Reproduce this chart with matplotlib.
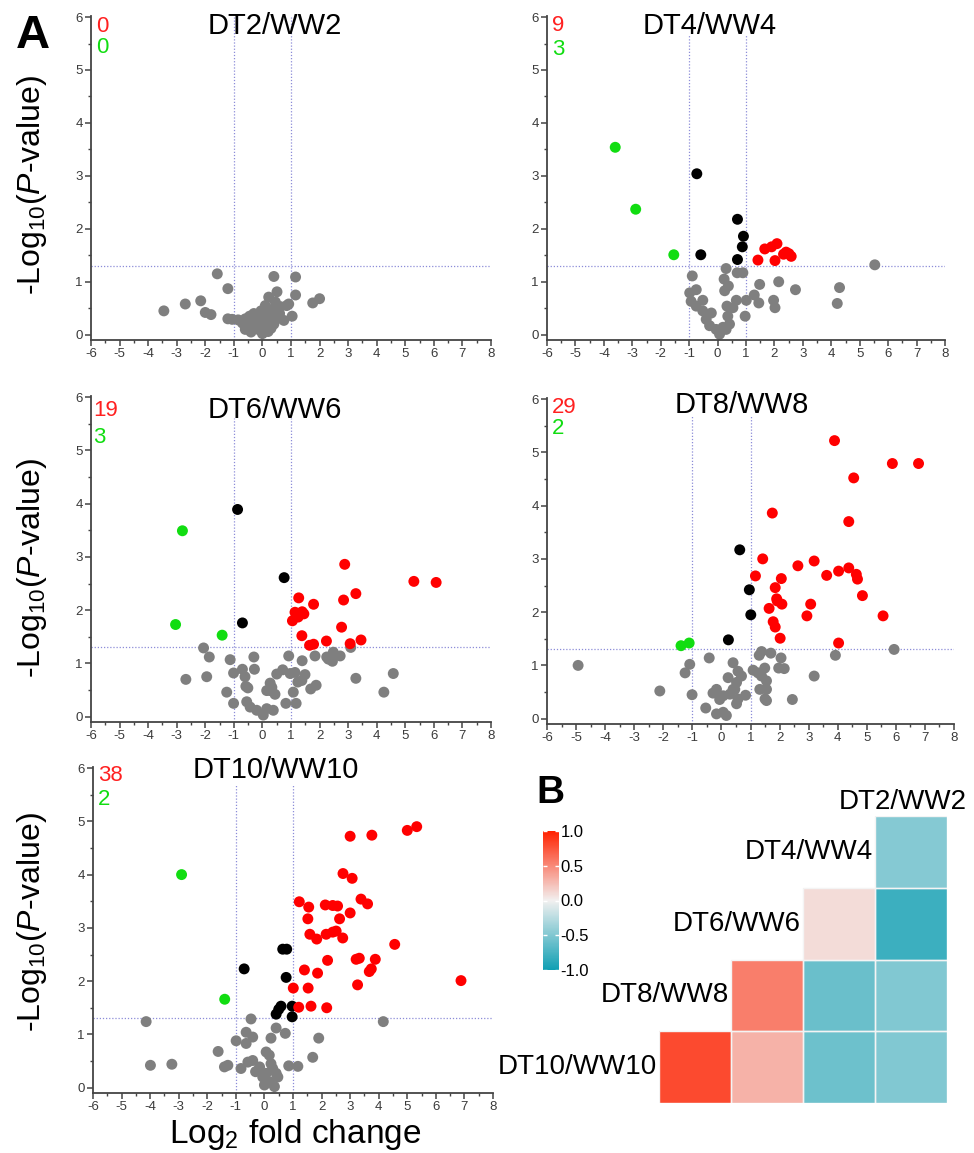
import numpy as np
import matplotlib
matplotlib.use("Agg")
import matplotlib.pyplot as plt
from matplotlib.colors import LinearSegmentedColormap
from matplotlib.ticker import MultipleLocator
from matplotlib.patches import Rectangle

plt.rcParams['font.family'] = ['Liberation Sans', 'DejaVu Sans']
plt.rcParams['mathtext.fontset'] = 'custom'
plt.rcParams['mathtext.rm'] = 'Liberation Sans'
plt.rcParams['mathtext.it'] = 'Liberation Sans:italic'
plt.rcParams['axes.unicode_minus'] = False

# ---------------- data ----------------
titles = ["DT2/WW2", "DT4/WW4", "DT6/WW6", "DT8/WW8", "DT10/WW10"]
up_counts = [0, 9, 19, 29, 38]
down_counts = [0, 3, 3, 2, 2]

# DT2/WW2
p1_gray_x = [-3.45, -2.70, -2.16, -2.0, -1.8, -1.58, -1.21, -1.21, -1.06, 0.40, 1.16, 0.51, 1.16, 0.22,
             1.76, 2.0, 1.04, 0.75, 0.92, 0.63,
             -0.85, -0.7, -0.6, -0.5, -0.45, -0.35, -0.3, -0.2, -0.15, -0.1, 0.0, 0.05, 0.1, 0.15, 0.2,
             0.25, 0.3, 0.35, 0.4, 0.5, 0.55, -0.4, -0.25, 0.0, 0.1, 0.3, 0.45, -0.05, 0.2, 0.12, 0.6, 0.85, -0.6]
p1_gray_y = [0.45, 0.58, 0.64, 0.42, 0.38, 1.15, 0.87, 0.30, 0.29, 1.10, 1.09, 0.81, 0.75, 0.71,
             0.60, 0.68, 0.35, 0.27, 0.58, 0.53,
             0.28, 0.22, 0.30, 0.15, 0.35, 0.25, 0.40, 0.18, 0.10, 0.30, 0.02, 0.15, 0.42, 0.08, 0.25,
             0.38, 0.12, 0.48, 0.20, 0.30, 0.45, 0.05, 0.33, 0.20, 0.55, 0.28, 0.62, 0.45, 0.06, 0.50, 0.40, 0.55, 0.10]
p1_black_x, p1_black_y = [], []
p1_red_x, p1_red_y = [], []
p1_green_x, p1_green_y = [], []

# DT4/WW4
p2_gray_x = [5.53, 4.29, 4.21, 2.74, 2.15, 1.48, 1.45, 1.97, 2.02, 1.29, 1.01, 0.97, 0.89, 0.69, 0.30, 0.23,
             0.38, 0.25, 0.66, 0.33, 0.54, 0.36, -0.89, -0.98, -0.75, -0.93, -0.52, -0.75, -0.52, -0.22,
             -0.40, -0.28, -0.05, 0.19, 0.07, 0.30, 0.42]
p2_gray_y = [1.32, 0.89, 0.59, 0.85, 1.00, 0.95, 0.60, 0.65, 0.51, 0.75, 0.65, 0.35, 1.17, 1.17, 1.25, 1.05,
             0.92, 0.83, 0.65, 0.54, 0.51, 0.35, 1.11, 0.79, 0.85, 0.63, 0.65, 0.54, 0.45, 0.41,
             0.29, 0.17, 0.10, 0.14, 0.01, 0.10, 0.20]
p2_black_x = [-0.73, -0.59, 0.70, 0.91, 0.87, 0.70]
p2_black_y = [3.04, 1.51, 2.18, 1.86, 1.66, 1.42]
p2_red_x = [1.42, 1.66, 1.90, 2.09, 2.02, 2.32, 2.51, 2.59, 2.41]
p2_red_y = [1.41, 1.62, 1.66, 1.72, 1.40, 1.52, 1.53, 1.48, 1.56]
p2_green_x = [-3.60, -2.88, -1.54]
p2_green_y = [3.54, 2.37, 1.51]

# DT6/WW6
p3_gray_x = [-2.06, -1.86, -2.68, -1.95, -1.13, -0.30, -1.01, -0.70, -0.28, -0.61, -0.58, -0.51, -1.25, -1.01,
             -0.55, -0.43, -0.20, 0.03, 0.15, 0.38, 0.27, 0.15, 0.33, 0.44, 0.27, 0.50, 0.71, 0.92, 0.97,
             1.14, 1.39, 1.49, 1.24, 1.38, 1.08, 1.18, 0.82, 1.69, 1.88, 1.84, 2.25, 2.45, 2.48, 2.72,
             2.31, 3.09, 3.27, 4.25, 4.58]
p3_gray_y = [1.29, 1.12, 0.70, 0.75, 1.07, 1.12, 0.82, 0.89, 0.89, 0.75, 0.57, 0.54, 0.46, 0.25,
             0.28, 0.18, 0.12, 0.03, 0.15, 0.12, 0.49, 0.49, 0.55, 0.42, 0.63, 0.80, 0.88, 1.14, 0.81,
             0.83, 1.05, 0.79, 0.65, 0.68, 0.46, 0.25, 0.25, 0.52, 0.59, 1.14, 1.12, 1.04, 1.21, 1.14,
             1.08, 1.30, 0.72, 0.46, 0.81]
p3_black_x = [-0.87, 0.76, -0.70]
p3_black_y = [3.89, 2.61, 1.76]
p3_red_x = [2.88, 5.30, 6.08, 3.27, 2.84, 1.27, 1.79, 1.14, 1.39, 1.25, 1.05, 2.77, 1.38, 1.65, 1.79, 2.24,
            3.07, 3.45, 1.45]
p3_red_y = [2.86, 2.54, 2.52, 2.31, 2.19, 2.23, 2.11, 1.96, 1.97, 1.87, 1.80, 1.68, 1.52, 1.34, 1.36, 1.42,
            1.37, 1.44, 1.93]
p3_green_x = [-2.80, -3.04, -1.41]
p3_green_y = [3.49, 1.73, 1.53]

# DT8/WW8
p4_gray_x = [-4.93, -2.12, -1.25, -1.09, -1.01, -0.42, -0.54, -0.17, -0.29, -0.06, 0.06, -0.17, 0.06, 0.17,
             0.23, 0.40, 0.57, 0.69, 0.52, 0.40, 0.29, 0.57, 0.52, 0.83, 0.46, 1.30, 1.38, 1.70, 1.09,
             1.26, 1.49, 1.38, 1.55, 1.32, 1.55, 1.50, 1.55, 2.05, 2.16, 1.97, 2.44, 3.19, 3.92, 5.94]
p4_gray_y = [1.00, 0.52, 0.86, 1.02, 0.45, 1.14, 0.20, 0.55, 0.48, 0.36, 0.43, 0.09, 0.12, 0.06,
             0.77, 1.05, 0.89, 0.80, 0.68, 0.55, 0.46, 0.37, 0.28, 0.44, 0.55, 1.19, 1.26, 1.23, 0.91,
             0.86, 0.95, 0.80, 0.71, 0.55, 0.55, 0.37, 0.34, 1.14, 0.94, 0.95, 0.36, 0.80, 1.19, 1.30]
p4_black_x = [0.63, 0.96, 1.01, 0.24]
p4_black_y = [3.17, 2.42, 1.95, 1.48]
p4_red_x = [3.89, 5.88, 6.78, 4.55, 1.75, 4.38, 1.42, 3.19, 2.63, 1.17, 2.06, 1.85, 3.62, 4.03, 4.38, 4.64,
            4.68, 4.85, 1.92, 2.08, 1.64, 3.07, 2.94, 5.56, 1.78, 1.85, 2.02, 4.03, 1.90]
p4_red_y = [5.22, 4.79, 4.79, 4.52, 3.86, 3.70, 3.00, 2.96, 2.87, 2.68, 2.63, 2.46, 2.69, 2.77, 2.83, 2.71,
            2.62, 2.31, 2.21, 2.15, 2.07, 2.15, 1.93, 1.93, 1.82, 1.72, 1.51, 1.42, 2.25]
p4_green_x = [-1.39, -1.11]
p4_green_y = [1.37, 1.42]

# DT10/WW10
p5_gray_x = [-4.14, -3.99, -3.24, -1.62, -1.40, -1.28, -0.99, -0.82, -0.64, -0.64, -0.41, -0.47, -0.58, -0.41,
             -0.31, -0.06, 0.00, 0.06, 0.17, 0.23, 0.29, 0.41, 0.47, 0.20, 0.35, 0.23, 0.41, 0.73, 0.85,
             1.17, 1.69, 1.90, 4.16, 0.06, -0.17]
p5_gray_y = [1.24, 0.42, 0.44, 0.68, 0.39, 0.42, 0.88, 0.36, 1.04, 0.83, 0.95, 1.29, 0.48, 0.51,
             0.30, 0.20, 0.05, 0.67, 0.61, 0.45, 0.36, 0.27, 0.20, 0.11, 0.02, 0.93, 1.12, 1.02, 0.41,
             0.40, 0.57, 0.93, 1.24, 0.27, 0.39]
p5_black_x = [-0.71, 0.64, 0.78, 0.76, 0.58, 0.50, 0.41, 0.97, 0.97]
p5_black_y = [2.23, 2.60, 2.60, 2.07, 1.53, 1.47, 1.38, 1.53, 1.33]
p5_red_x = [3.00, 3.76, 5.00, 5.33, 2.75, 3.07, 1.22, 1.55, 2.13, 2.39, 2.56, 3.38, 3.61, 3.00, 1.52, 2.63,
            1.59, 1.83, 2.16, 2.39, 2.51, 2.74, 4.56, 3.21, 3.32, 3.88, 2.21, 1.40, 1.86, 3.67, 3.74, 6.88,
            1.01, 1.53, 3.26, 1.20, 1.63, 2.18]
p5_red_y = [4.72, 4.74, 4.83, 4.90, 4.02, 3.93, 3.49, 3.39, 3.43, 3.42, 3.41, 3.54, 3.45, 3.28, 3.17, 3.17,
            2.88, 2.79, 2.88, 2.92, 2.94, 2.81, 2.69, 2.41, 2.43, 2.41, 2.39, 2.21, 2.15, 2.18, 2.23, 2.01,
            1.87, 1.87, 1.93, 1.51, 1.53, 1.50]
p5_green_x = [-2.90, -1.39]
p5_green_y = [4.00, 1.66]

# correlation heatmap (rows: DT4, DT6, DT8, DT10 ; cols: DT8, DT6, DT4, DT2)
heat_rows = ["DT4/WW4", "DT6/WW6", "DT8/WW8", "DT10/WW10"]
heat_cols = ["DT8/WW8", "DT6/WW6", "DT4/WW4", "DT2/WW2"]
corr_dt4 = [np.nan, np.nan, np.nan, -0.48]
corr_dt6 = [np.nan, np.nan, 0.10, -0.80]
corr_dt8 = [np.nan, 0.55, -0.60, -0.50]
corr_dt10 = [0.80, 0.30, -0.58, -0.50]
cbar_ticks = [-1.0, -0.5, 0.0, 0.5, 1.0]

# ---------------- figure ----------------
W, H = 974, 1153
fig = plt.figure(figsize=(W / 100, H / 100), dpi=100)


def fx(px):
    return px / W


def fy(py):
    return 1 - py / H


panels = [
    dict(rect=(91, 491, 340, 16), data=(p1_gray_x, p1_gray_y, p1_black_x, p1_black_y, p1_red_x, p1_red_y, p1_green_x, p1_green_y),
         title_xy=(0.46, 0.969), cnt=(0.014, 0.969, 0.904), vtop=6.0),
    dict(rect=(547, 945, 340, 16), data=(p2_gray_x, p2_gray_y, p2_black_x, p2_black_y, p2_red_x, p2_red_y, p2_green_x, p2_green_y),
         title_xy=(0.41, 0.969), cnt=(0.013, 0.972, 0.898), vtop=5.67),
    dict(rect=(91, 491, 722, 396), data=(p3_gray_x, p3_gray_y, p3_black_x, p3_black_y, p3_red_x, p3_red_y, p3_green_x, p3_green_y),
         title_xy=(0.46, 0.957), cnt=(0.005, 0.957, 0.874), vtop=5.61),
    dict(rect=(547, 954, 724, 398), data=(p4_gray_x, p4_gray_y, p4_black_x, p4_black_y, p4_red_x, p4_red_y, p4_green_x, p4_green_y),
         title_xy=(0.479, 0.98), cnt=(0.013, 0.972, 0.905), vtop=5.69),
    dict(rect=(93, 493, 1093, 767), data=(p5_gray_x, p5_gray_y, p5_black_x, p5_black_y, p5_red_x, p5_red_y, p5_green_x, p5_green_y),
         title_xy=(0.458, 0.99), cnt=(0.013, 0.975, 0.899), vtop=5.7),
]

dot_s = 62
line_col = '#8c8cd8'
for i, p in enumerate(panels):
    x0, x1, yb, yt = p['rect']
    ax = fig.add_axes([fx(x0), fy(yb), (x1 - x0) / W, (yb - yt) / H])
    gx, gy, bx, by, rx, ry, grx, gry = p['data']
    ax.set_xlim(-6, 8)
    ax.set_ylim(-0.1, 6.02)
    ax.axhline(1.3, color=line_col, lw=0.9, ls=(0, (1, 1.5)), zorder=1)
    ax.vlines([-1, 1], -0.1, p['vtop'], color=line_col, lw=0.9, ls=(0, (1, 1.5)), zorder=1)
    ax.scatter(gx, gy, s=dot_s, c='#7f7f7f', edgecolors='none', zorder=2)
    ax.scatter(bx, by, s=dot_s, c='#000000', edgecolors='none', zorder=3)
    ax.scatter(rx, ry, s=dot_s, c='#ff0000', edgecolors='none', zorder=3)
    ax.scatter(grx, gry, s=dot_s, c='#11dd11', edgecolors='none', zorder=3)
    for side in ['top', 'right']:
        ax.spines[side].set_visible(False)
    for side in ['left', 'bottom']:
        ax.spines[side].set_color('#444444')
        ax.spines[side].set_linewidth(1.3)
    ax.xaxis.set_major_locator(MultipleLocator(1))
    ax.xaxis.set_minor_locator(MultipleLocator(0.5))
    ax.yaxis.set_major_locator(MultipleLocator(1))
    ax.yaxis.set_minor_locator(MultipleLocator(0.5))
    ax.tick_params(which='major', direction='out', length=4, width=1.1, color='#444444',
                   labelsize=9.5, labelcolor='#3a3a3a', pad=2)
    ax.tick_params(which='minor', direction='out', length=2.2, width=1.0, color='#444444')
    ax.set_facecolor('none')
    tx, ty = p['title_xy']
    ax.text(tx, ty, titles[i], transform=ax.transAxes, ha='center', va='center', fontsize=21, color='black')
    cx, cy1, cy2 = p['cnt']
    ax.text(cx, cy1, str(up_counts[i]), transform=ax.transAxes, ha='left', va='center', fontsize=16, color='#ff2020')
    ax.text(cx, cy2, str(down_counts[i]), transform=ax.transAxes, ha='left', va='center', fontsize=16, color='#11dd11')

ylab = r'-Log$_{10}$($\mathit{P}$-value)'
for yc in [185, 568, 922]:
    fig.text(fx(32), fy(yc), ylab, rotation=90, ha='center', va='center', fontsize=23)
fig.text(fx(295), fy(1143), r'Log$_{2}$ fold change', ha='center', va='baseline', fontsize=24)

fig.text(fx(16), fy(48), 'A', fontsize=34, fontweight='bold', ha='left', va='baseline')
fig.text(fx(536), fy(803), 'B', fontsize=28, fontweight='bold', ha='left', va='baseline')

# ---------------- heatmap ----------------
cmap = LinearSegmentedColormap.from_list('rb', [(0.0, '#0f9fb3'), (0.5, '#f2f0f0'), (1.0, '#ff2200')])
corr_rows = [corr_dt4, corr_dt6, corr_dt8, corr_dt10]
M = np.ma.masked_invalid(np.array(corr_rows))
hax = fig.add_axes([fx(659), fy(1103), 288 / W, 287 / H])
mesh = hax.pcolormesh(np.arange(5), np.arange(5), M, cmap=cmap, vmin=-1, vmax=1, edgecolors='none')
for r, row in enumerate(corr_rows):
    for c, v in enumerate(row):
        if not np.isnan(v):
            hax.add_patch(Rectangle((c, r), 1, 1, fill=False, edgecolor='#f4f4f4', lw=1.0))
hax.set_xlim(0, 4)
hax.set_ylim(4, 0)
hax.axis('off')
for r, lab in enumerate(heat_rows):
    first = np.where(~np.isnan(np.array(corr_rows[r])))[0][0]
    hax.text(first - 0.03, r + 0.5, lab, ha='right', va='center', fontsize=20)
hax.text(4.28, -0.2, heat_cols[3], ha='right', va='center', fontsize=20, clip_on=False)

cax = fig.add_axes([fx(543), fy(970), 16 / W, 139 / H])
cb = fig.colorbar(mesh, cax=cax, ticks=cbar_ticks)
cb.outline.set_visible(False)
cax.set_yticklabels(['%.1f' % t for t in cbar_ticks])
cax.tick_params(axis='y', direction='in', length=3, width=1, color='white', labelsize=12, pad=1,
                left=True, right=True)

fig.savefig('out.png', dpi=100)
